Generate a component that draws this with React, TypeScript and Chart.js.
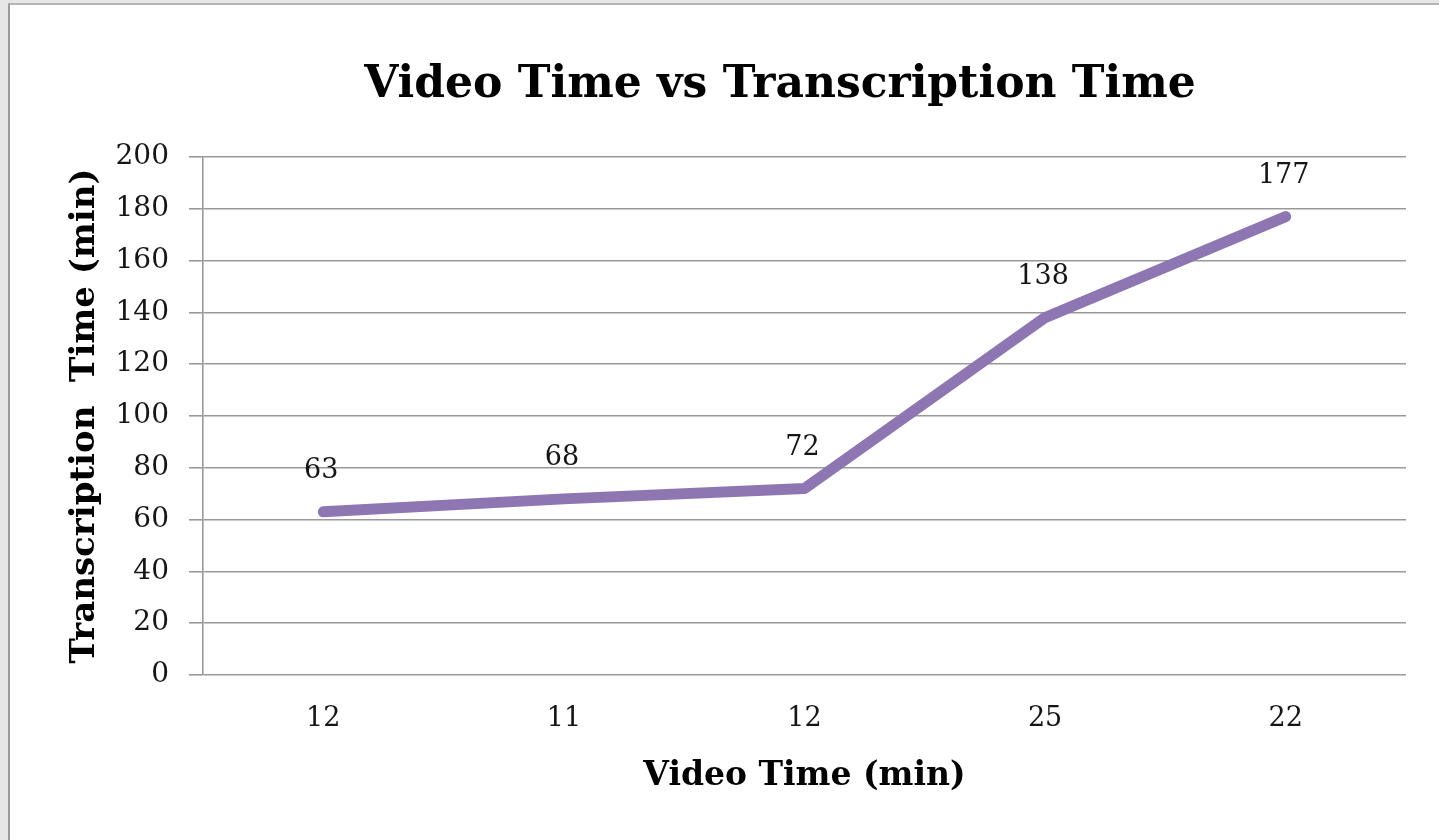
import React, { useEffect, useRef } from "react";
import { Chart, registerables } from "chart.js";

Chart.register(...registerables);

const videoTimes: string[] = ["12", "11", "12", "25", "22"];
const transcriptionTimes: number[] = [63, 68, 72, 138, 177];
const yTicksMin = 0;
const yTicksMax = 200;
const yTicksStep = 20;

const TITLE = "Video Time vs Transcription Time";
const X_TITLE = "Video Time (min)";
const Y_TITLE = "Transcription  Time (min)";

const FONT = "'DejaVu Serif', serif";
const TEXT_COLOR = "#151515";
const GRID_COLOR = "#999999";
const LINE_COLOR = "#8e76b3";

const titlePlugin = {
  id: "customTitle",
  afterDraw(chart: any) {
    const ctx = chart.ctx;
    ctx.save();
    ctx.font = `bold 44px ${FONT}`;
    ctx.fillStyle = "#000";
    ctx.textAlign = "center";
    ctx.textBaseline = "alphabetic";
    ctx.fillText(TITLE, 770, 92);
    ctx.restore();
  },
};

const labelPlugin = {
  id: "valueLabels",
  afterDatasetsDraw(chart: any) {
    const ctx = chart.ctx;
    const meta = chart.getDatasetMeta(0);
    const data = chart.data.datasets[0].data as number[];
    ctx.save();
    ctx.font = `27px ${FONT}`;
    ctx.fillStyle = TEXT_COLOR;
    ctx.textAlign = "center";
    ctx.textBaseline = "alphabetic";
    meta.data.forEach((el: any, i: number) => {
      ctx.fillText(String(data[i]), el.x - 2, el.y - 34);
    });
    ctx.restore();
  },
};

export default function App() {
  const canvasRef = useRef<HTMLCanvasElement | null>(null);

  useEffect(() => {
    if (!canvasRef.current) return;
    const chart = new Chart(canvasRef.current, {
      type: "line",
      data: {
        labels: videoTimes,
        datasets: [
          {
            data: transcriptionTimes,
            borderColor: LINE_COLOR,
            backgroundColor: LINE_COLOR,
            borderWidth: 11,
            borderCapStyle: "round",
            borderJoinStyle: "round",
            pointRadius: 0,
            tension: 0,
            fill: false,
          },
        ],
      },
      options: {
        responsive: false,
        animation: false,
        layout: { padding: { top: 152, right: 33, bottom: 44, left: 55 } },
        plugins: {
          legend: { display: false },
          title: { display: false },
          tooltip: { enabled: false },
        },
        scales: {
          x: {
            offset: true,
            grid: { display: false, drawTicks: false },
            border: { display: false },
            ticks: {
              padding: 28,
              color: TEXT_COLOR,
              font: { family: FONT, size: 27 },
            },
            title: {
              display: true,
              text: X_TITLE,
              color: "#000",
              font: { family: FONT, size: 33, weight: "bold" },
              padding: 0,
            },
            afterFit: (scale: any) => {
              scale.height = 121;
            },
          },
          y: {
            min: yTicksMin,
            max: yTicksMax,
            grid: {
              color: GRID_COLOR,
              lineWidth: 1.6,
              drawTicks: true,
              tickLength: 14,
            },
            border: { display: true, color: GRID_COLOR, width: 1.6 },
            ticks: {
              stepSize: yTicksStep,
              padding: 20,
              color: TEXT_COLOR,
              font: { family: FONT, size: 28 },
            },
            title: {
              display: true,
              text: Y_TITLE,
              color: "#000",
              font: { family: FONT, size: 34, weight: "bold" },
              padding: 0,
            },
            afterFit: (scale: any) => {
              scale.width = 138;
            },
          },
        },
      },
      plugins: [titlePlugin, labelPlugin],
    } as any);
    return () => chart.destroy();
  }, []);

  return (
    <div
      style={{
        position: "fixed",
        left: 0,
        top: 0,
        width: 1439,
        height: 840,
        background: "#e6e6e6",
        overflow: "hidden",
      }}
    >
      <div
        style={{
          position: "absolute",
          left: 8,
          top: 3,
          right: 0,
          bottom: 0,
          background: "#ffffff",
          borderLeft: "2px solid #9a9a9a",
          borderTop: "2px solid #b4b4b4",
        }}
      >
        <canvas
          ref={canvasRef}
          width={1429}
          height={835}
          style={{ position: "absolute", left: 0, top: 0, width: 1429, height: 835 }}
        />
      </div>
    </div>
  );
}
